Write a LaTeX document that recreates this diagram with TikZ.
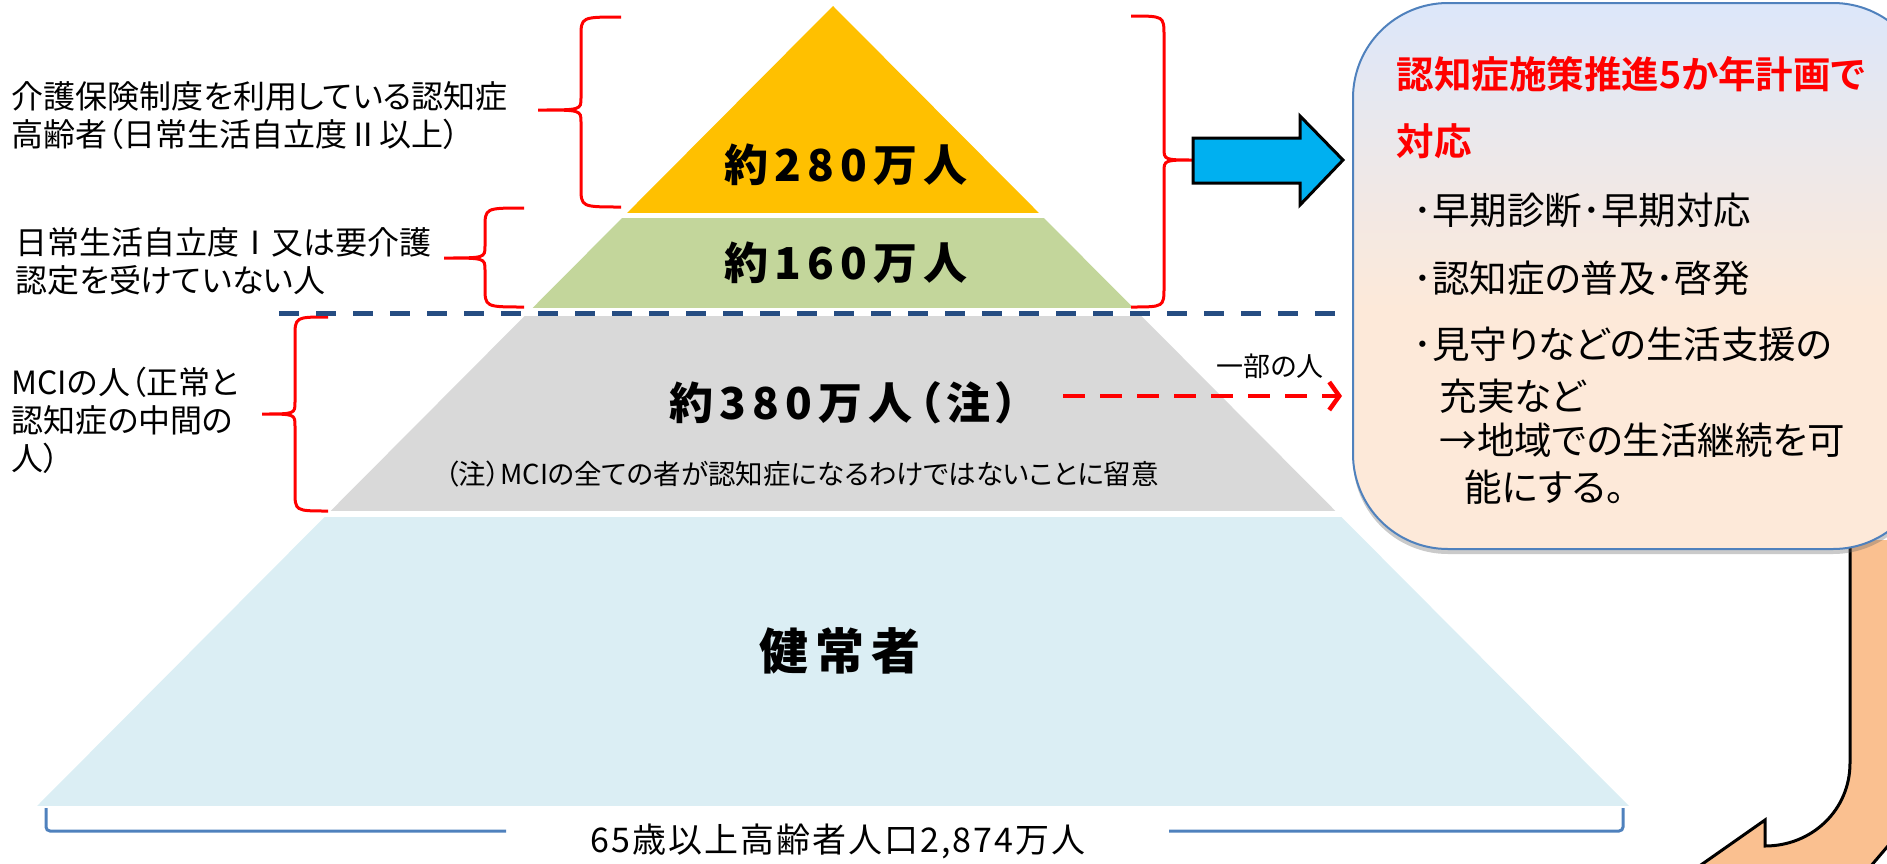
\documentclass[tikz,border=0pt]{standalone}
\usepackage{fontspec}
\setmainfont{Noto Sans CJK JP}[RawFeature={+palt}]
\newfontfamily\bandfont{Noto Sans CJK JP Black}[LetterSpace=14, RawFeature={+palt}]
\newfontfamily\titlefont{Noto Sans CJK JP Bold}[RawFeature={+palt}]
\newfontfamily\totalfont{Noto Sans CJK JP}[LetterSpace=6]
\usetikzlibrary{arrows.meta}
\usetikzlibrary{shadows}

\definecolor{layerorange}{HTML}{FFC000}
\definecolor{layergreen}{HTML}{C3D69B}
\definecolor{layergray}{HTML}{D9D9D9}
\definecolor{layerblue}{HTML}{DBEEF4}
\definecolor{sepblue}{RGB}{38,77,130}
\definecolor{frameblue}{HTML}{4F81BD}
\definecolor{arrowblue}{HTML}{00B0F0}
\definecolor{tailorange}{HTML}{FAC090}
\definecolor{planblue}{RGB}{220,231,250}
\definecolor{planpeach}{RGB}{253,233,217}

\pgfdeclareverticalshading{planshade}{100bp}{color(0bp)=(planpeach); color(47bp)=(planpeach); color(75bp)=(planblue); color(100bp)=(planblue)}

% end x, spine x, tip x, top y, tip y, bottom y
\newcommand{\redbrace}[6]{%
  \draw[bracket] (#1,#4) .. controls (#2,#4) .. (#2,#4+20) -- (#2,#5-12)
    .. controls (#2,#5) .. (#3,#5) .. controls (#2,#5) .. (#2,#5+12)
    -- (#2,#6-20) .. controls (#2,#6) .. (#1,#6);}

\begin{document}
\begin{tikzpicture}[x=1pt, y=-1pt,
	bracket/.style={draw=red, line width=3pt},
	bandlabel/.style={font={\fontsize{44}{50}\bandfont}},
	sidelabel/.style={anchor=west, align=left, font={\fontsize{32}{38}\selectfont}},
	planbox/.style={draw=frameblue, line width=2pt, shading=planshade,
	                rounded corners=95pt, minimum width=575pt, minimum height=546pt,
	                drop shadow={shadow xshift=0pt, shadow yshift=-5pt, opacity=.35, fill=black!60}},
	plantitle/.style={anchor=west, text=red, font={\fontsize{37.5}{44}\titlefont}},
	planitem/.style={anchor=west, font={\fontsize{37.5}{42}\selectfont}},
	sepline/.style={draw=sepblue, line width=5pt, dash pattern=on 20pt off 17pt},
	partarrow/.style={draw=red, line width=4.5pt, dash pattern=on 22pt off 15pt,
	                  -{Straight Barb[length=10pt, width=28pt]}, shorten >=10pt},
	basebracket/.style={draw=frameblue, line width=3pt, rounded corners=4pt},
	tailline/.style={draw=black, line width=3pt}]

	\useasboundingbox (0,0) rectangle (1887,863);
	\clip (0,0) rectangle (1887,863);

	% pyramid
	\begin{scope}
		\clip (833,6) -- (1629,806) -- (37,806) -- cycle;
		\fill[layerorange] (0,0) rectangle (1887,213);
		\fill[layergreen] (0,218) rectangle (1887,308);
		\fill[layergray] (0,316) rectangle (1887,511);
		\fill[layerblue] (0,517) rectangle (1887,806);
	\end{scope}

	\node[bandlabel] (dem280) at (846,165) {約280万人};
	\node[bandlabel] (dem160) at (846,263) {約160万人};
	\node[bandlabel] (mci) at (844,403) {約380万人（注）};
	\node[font={\fontsize{27.5}{30}\selectfont}] (note) at (802,474) {（注）MCIの全ての者が認知症になるわけではないことに留意};
	\node[font={\fontsize{49}{50}\bandfont}] (healthy) at (840,651) {健常者};

	% base bracket
	\node[font={\fontsize{34}{36}\totalfont}] (total) at (838,841) {65歳以上高齢者人口2,874万人};
	\draw[basebracket] (46,808) |- (506,831);
	\draw[basebracket] (1169,831) -| (1623,808);

	% side labels
	\node[sidelabel] (care) at (8,116) {介護保険制度を利用している認知症\\高齢者（日常生活自立度Ⅱ以上）};
	\node[sidelabel] (nocare) at (12,261) {日常生活自立度Ⅰ又は要介護\\認定を受けていない人};
	\node[sidelabel] (mcipeople) at (8,420) {MCIの人（正常と\\認知症の中間の\\人）};

	\redbrace{621}{581}{538}{17}{110}{207}
	\redbrace{524}{485}{444}{208}{258}{307}
	\redbrace{328}{295}{262}{317}{414}{511}
	\redbrace{1131}{1164}{1195}{16}{160}{307}

	\coordinate (sepL) at (279,313);
	\coordinate (sepR) at (1345,313);
	\draw[sepline] (sepL) -- (sepR);

	% speech tail, then the box
	\fill[tailorange] (1850,540) -- (1850,763) .. controls (1850,810) and (1812,846) .. (1765,846)
	  -- (1765,820) -- (1698,867) -- (1870,867) -- (1893,840) -- (1893,540) -- cycle;
	\draw[tailline] (1850,540) -- (1850,763) .. controls (1850,810) and (1812,846) .. (1765,846)
	  -- (1765,820) -- (1698,867);
	\draw[tailline] (1870,867) -- (1893,840);

	\node[planbox, anchor=north west] (plan) at (1352,2) {};

	\node[plantitle] (title1) at (1393,74) {認知症施策推進5か年計画で};
	\node[plantitle] (title2) at (1393,141) {対応};
	\node[planitem] (item1) at (1410,210) {･早期診断･早期対応};
	\node[planitem] (item2) at (1410,278) {･認知症の普及･啓発};
	\node[planitem] (item3) at (1410,344) {･見守りなどの生活支援の};
	\node[planitem] (item3b) at (1436,396) {充実など};
	\node[planitem] (item3c) at (1436,440) {→地域での生活継続を可};
	\node[planitem] (item3d) at (1461,487) {能にする。};

	% arrows to the box
	\filldraw[fill=arrowblue, draw=black, line width=3pt] (1193,138) -- (1300,138) -- (1300,116)
	  -- (1343,160) -- (1300,205) -- (1300,183) -- (1193,183) -- cycle;

	\coordinate (partfrom) at (1063,396);
	\draw[partarrow] (partfrom) -- (partfrom -| plan.west);
	\node[font={\fontsize{27}{30}\selectfont}] (part) at (1270,366) {一部の人};
\end{tikzpicture}
\end{document}
